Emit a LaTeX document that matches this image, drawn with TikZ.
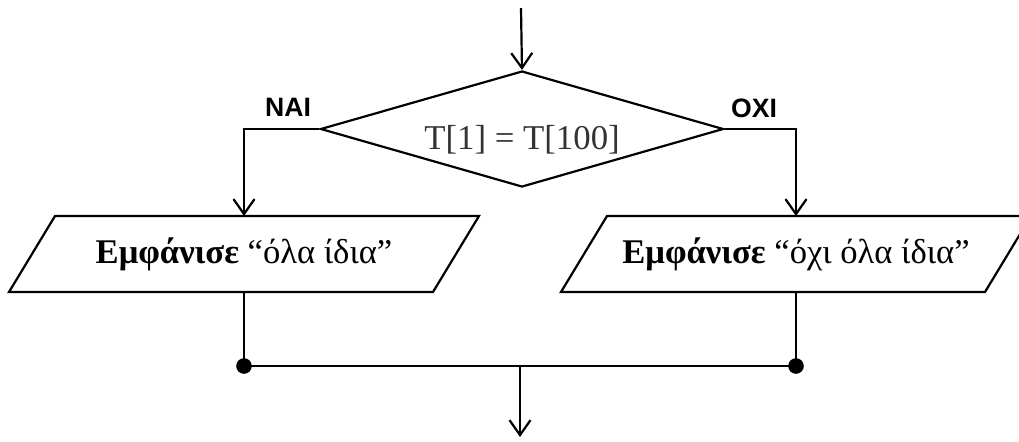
\documentclass[tikz,border=0pt]{standalone}
\usepackage{fontspec}
\setmainfont{Liberation Serif}
\newfontfamily\labelfont{Liberation Sans}
\usetikzlibrary{shapes.geometric,arrows.meta}

\begin{document}
\begin{tikzpicture}[x=0.5pt, y=-0.5pt, line width=1.1pt,
  arr/.style={-{Straight Barb[length=7.5pt, width=10.5pt]}},
  cond/.style={diamond, draw, aspect=3.47, minimum width=201.5pt, minimum height=58pt, inner sep=0pt, font=\fontsize{17.4}{20}\selectfont, text=black!80},
  io/.style={rectangle, minimum width=212pt, minimum height=38pt, inner sep=0pt, outer sep=0pt, font=\fontsize{17.3}{20}\selectfont},
  yesno/.style={font=\labelfont\bfseries\fontsize{13.3}{15}\selectfont},
  dot/.style={circle, fill, inner sep=0pt, minimum size=7.8pt}]
\useasboundingbox (0,0) rectangle (1019,441);
% Voorwaarde
\coordinate (start) at (521,8);
\node[cond] (cond) at (522,129) {\raisebox{-10pt}[0pt][0pt]{T[1] = T[100]}};
\node[yesno] (nai) at (288,107) {NAI};
\node[yesno] (oxi) at (754,108) {OXI};
% Uitvoer
\node[io] (ioL) at (244,254) {\textbf{Εμφάνισε} “όλα ίδια”};
\node[io] (ioR) at (796,254) {\textbf{Εμφάνισε} “όχι όλα ίδια”};
\foreach \n in {ioL,ioR}
  \draw ([xshift=-11.5pt]\n.south west) -- ([xshift=11.5pt]\n.north west)
     -- ([xshift=11.5pt]\n.north east) -- ([xshift=-11.5pt]\n.south east) -- cycle;
% Samenkomst
\coordinate (merge) at (520,366);
\coordinate (stop) at (520,437);
\node[dot] (dotL) at (ioL.south |- merge) {};
\node[dot] (dotR) at (ioR.south |- merge) {};
% Pijlen
\draw[arr] (start) -- (cond.north);
\draw[arr] (cond.west) -| (ioL.north);
\draw[arr] (cond.east) -| (ioR.north);
\draw (ioL.south) -- (dotL.center) -- (dotR.center) -- (ioR.south);
\draw[arr] (merge) -- (stop);
\end{tikzpicture}
\end{document}
